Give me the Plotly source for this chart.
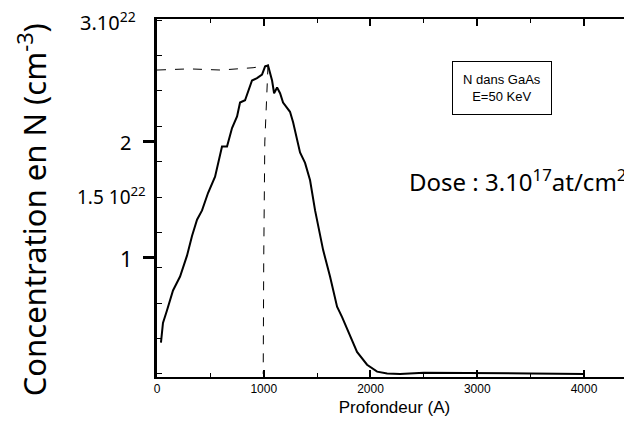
import plotly.graph_objects as go

# Profile data (depth in Angstrom, concentration in 1e22 cm^-3)
depth = [37, 56, 94, 150, 216, 281, 328, 375, 422, 478, 544, 609, 656, 703, 750, 778,
         825, 890, 937, 984, 1012, 1040, 1078, 1097, 1125, 1153, 1181, 1246, 1275, 1312,
         1340, 1387, 1434, 1481, 1500, 1556, 1621, 1687, 1734, 1809, 1874, 1968, 2062,
         2156, 2277, 2500, 3000, 3500, 4000]
conc = [0.27, 0.44, 0.55, 0.72, 0.84, 1.02, 1.19, 1.33, 1.41, 1.56, 1.70, 1.96, 1.96,
        2.12, 2.22, 2.34, 2.36, 2.53, 2.55, 2.58, 2.65, 2.66, 2.53, 2.42, 2.47, 2.42,
        2.34, 2.26, 2.17, 2.02, 1.91, 1.82, 1.67, 1.41, 1.33, 1.07, 0.84, 0.58, 0.49,
        0.32, 0.19, 0.08, 0.02, 0.005, 0.0, 0.01, 0.01, 0.005, 0.0]

# Peak guide lines (hand-drawn dashes)
hguide_x = [0, 300, 600, 900, 1040]
hguide_y = [2.62, 2.63, 2.62, 2.64, 2.66]
vguide_x = [1040, 1010, 1000, 995]
vguide_y = [2.66, 2.0, 1.0, 0.0]

x_ticks = [0, 1000, 2000, 3000, 4000]
y_major = [1, 2]
X_RANGE = [0, 4450]
Y_RANGE = [-0.026, 3.06]

fig = go.Figure()
fig.add_trace(go.Scatter(x=hguide_x, y=hguide_y, mode="lines",
                         line=dict(color="black", width=1, dash="dash"), hoverinfo="skip"))
fig.add_trace(go.Scatter(x=vguide_x, y=vguide_y, mode="lines",
                         line=dict(color="black", width=1, dash="dash"), hoverinfo="skip"))
fig.add_trace(go.Scatter(x=depth, y=conc, mode="lines",
                         line=dict(color="black", width=2)))

hand = dict(family="Noto Sans", color="black")

annots = [
    dict(x=-0.103, y=0.992, text="3.10<sup>22</sup>", size=20),
    dict(x=-0.067, y=0.656, text="2", size=20),
    dict(x=-0.095, y=0.506, text="1.5 10<sup>22</sup>", size=19),
    dict(x=-0.065, y=0.332, text="1", size=22),
    dict(x=0.758, y=0.550, text="Dose : 3.10<sup>17</sup>at/cm<sup>2</sup>", size=24),
]
for a in annots:
    fig.add_annotation(x=a["x"], y=a["y"], xref="paper", yref="paper", text=a["text"],
                       xanchor="center", yanchor="middle",
                       showarrow=False, font=dict(size=a["size"], **hand))

fig.add_annotation(x=-0.263, y=0.466, xref="paper", yref="paper", textangle=-90,
                   xanchor="center", yanchor="middle",
                   text="Concentration en N (cm<sup>-3</sup>)", showarrow=False,
                   font=dict(size=31, **hand))

fig.add_annotation(x=0.726, y=0.806, xref="paper", yref="paper",
                   xanchor="center", yanchor="middle",
                   text="N dans GaAs<br>E=50 KeV", showarrow=False,
                   font=dict(family="Liberation Sans", size=13, color="black"),
                   bordercolor="black", borderwidth=1, borderpad=10, bgcolor="white")

# figure sized so that, with the page's 8px body margin, it fills the 632x435 window
fig.update_layout(
    width=624, height=427,
    margin=dict(l=149, r=0, t=11, b=58),
    paper_bgcolor="white", plot_bgcolor="white",
    showlegend=False,
    xaxis=dict(range=X_RANGE, tickvals=x_ticks, ticks="inside", ticklen=7, tickwidth=2,
               tickcolor="black", showline=True, linecolor="black", linewidth=2,
               mirror="ticks", showgrid=False, zeroline=False,
               tickfont=dict(family="Liberation Sans", size=12, color="black"),
               minor=dict(dtick=500, tick0=0, ticks="inside", ticklen=4, tickwidth=1,
                          tickcolor="black", showgrid=False),
               title=dict(text="Profondeur (A)", standoff=6,
                          font=dict(family="Liberation Sans", size=17, color="black"))),
    yaxis=dict(range=Y_RANGE, tickvals=y_major, ticktext=["", ""], ticks="outside",
               ticklen=11, tickwidth=3, tickcolor="black", showline=True,
               linecolor="black", linewidth=2.5, mirror=False,
               showgrid=False, zeroline=False,
               minor=dict(dtick=0.305, tick0=0, ticks="inside", ticklen=5, tickwidth=1,
                          tickcolor="black", showgrid=False)),
)

fig.write_html("out.html")
